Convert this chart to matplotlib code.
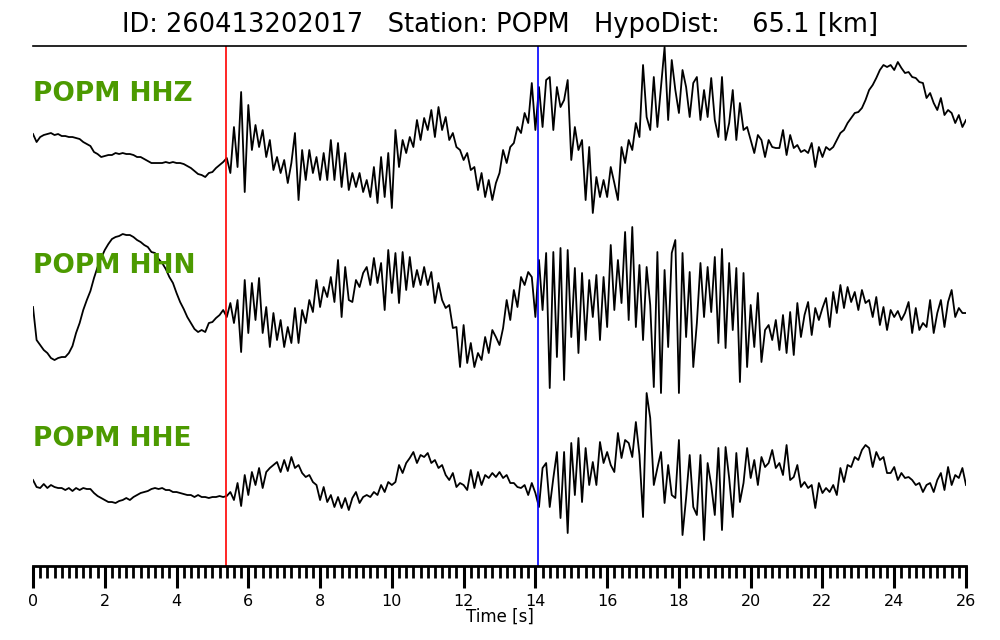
import numpy as np
import matplotlib
matplotlib.use("Agg")
import matplotlib.pyplot as plt
from matplotlib.ticker import MultipleLocator

title = "ID: 260413202017   Station: POPM   HypoDist:    65.1 [km]"
channels = ["POPM HHZ", "POPM HHN", "POPM HHE"]
dt = 0.1
p_time = 5.38
s_time = 14.07

hhz = [16, 8, 13, 15, 16, 17, 15, 16, 14, 14, 13, 13, 12, 11, 8, 6, 4, -2, -4, -7,
       -6, -5, -5, -3, -4, -3, -4, -4, -5, -7, -7, -9, -11, -13, -13, -13, -13, -12, -13, -12,
       -13, -13, -14, -16, -18, -21, -24, -25, -27, -23, -22, -18, -15, -12, -8, -23, 23, -17, 58, -42,
       45, 0, 25, 3, 20, -7, 10, -20, -7, -23, -10, -33, -13, 17, -50, 0, -30, 0, -23, -7,
       -30, -3, -30, 10, -30, 7, -37, -3, -40, -23, -37, -23, -42, -30, -47, -17, -53, -7, -47, -3,
       -58, 20, -17, 10, -3, 13, 3, 30, 10, 32, 20, 40, 13, 43, 20, 33, 10, 17, 3, 0,
       -10, -3, -20, -17, -40, -23, -47, -30, -50, -33, -23, 0, -13, 3, 7, 23, 17, 37, 27, 67,
       20, 63, 23, 70, 73, 20, 63, 43, 50, 70, -10, 23, 0, 10, -50, 3, -63, -27, -47, -30,
       -47, -17, -33, -50, 3, -13, 10, 0, 27, 13, 85, 33, 20, 73, 23, 63, 103, 30, 90, 60,
       37, 80, 63, 33, 67, 73, 30, 60, 33, 72, 30, 13, 73, 10, 27, 60, 10, 47, 20, 23,
       10, -3, 15, 10, -7, 10, 3, 2, 2, 20, -5, 15, 2, 5, -2, 0, -3, 7, -17, 3,
       -7, 3, 0, 3, 10, 17, 20, 27, 32, 37, 38, 42, 50, 60, 65, 72, 80, 85, 83, 85,
       80, 88, 82, 77, 78, 73, 72, 68, 67, 52, 57, 47, 40, 52, 35, 40, 37, 27, 35, 23,
       30]

hhn = [3, -30, -35, -40, -43, -48, -50, -48, -47, -47, -43, -36, -23, -13, 0, 10, 19, 32, 43, 52,
       60, 66, 71, 73, 74, 76, 75, 75, 73, 70, 68, 65, 63, 58, 57, 51, 47, 41, 33, 27,
       17, 8, 1, -7, -13, -19, -22, -20, -22, -13, -12, -8, -5, 0, -7, 7, -13, 10, -42, 30,
       -23, 27, -10, 32, -23, 3, -37, -3, -30, -10, -37, -17, -33, 2, -33, 0, -13, 10, -2, 30,
       3, 23, 13, 33, 8, 50, -7, 43, 10, 8, 30, 23, 37, 43, 25, 52, 27, 47, 0, 60,
       17, 57, 7, 58, 20, 53, 23, 40, 25, 43, 25, 38, 7, 27, 10, 2, 5, -18, -17, -57,
       -15, -53, -33, -57, -43, -50, -27, -43, -20, -27, -35, -18, 10, -10, 20, 3, 33, 25, 38, 33,
       -7, 50, 0, 57, -78, 58, -47, 62, -70, 60, -27, 42, -43, 37, -30, 30, -7, 35, -30, 33,
       -17, 65, 0, 50, 7, 78, -10, 83, -17, 45, -30, 43, 5, -77, 58, -83, 40, -37, 57, 70,
       -83, 57, -27, 38, -57, -13, 47, -7, 43, -2, 53, -33, 61, -38, 47, -20, 42, -72, 37, -57,
       5, -37, 17, -52, -20, -15, -30, -10, -40, -5, -43, -2, -45, 7, -27, -5, 8, -25, 2, -10,
       2, 12, -17, 18, -3, 25, 2, 23, 8, 18, 0, 20, 7, 10, -7, 13, -15, 3, -20, 0,
       -7, -1, -10, -3, 8, -23, 2, -20, -13, -17, 10, -23, -3, 10, -17, 8, 20, -7, 2, -3,
       -3]

hhe = [10, 3, 2, 6, 2, 5, 3, 2, 2, 0, 2, -1, 2, 0, 2, 1, 1, -3, -6, -8,
       -10, -12, -12, -13, -11, -10, -8, -10, -7, -5, -3, -2, -1, 1, 2, 1, 2, 0, 0, -2,
       -2, -3, -4, -5, -5, -7, -5, -7, -7, -8, -7, -7, -6, -7, -6, -2, -10, 7, -16, 15,
       -5, 18, 5, 22, 2, 18, 22, 25, 28, 18, 30, 19, 33, 22, 25, 17, 13, 15, 8, 5,
       -10, 3, -12, -5, -17, -7, -18, -8, -20, -8, -2, -13, -7, -5, -7, -2, -5, 5, -2, 8,
       5, 8, 25, 17, 27, 32, 38, 27, 35, 33, 37, 27, 30, 22, 25, 15, 10, 17, 3, 7,
       5, 0, 20, 2, 18, 5, 15, 12, 17, 13, 18, 12, 15, 7, 7, 3, 2, 5, -5, 7,
       -3, -17, 22, 27, -17, 12, 38, -28, 38, -43, 47, -5, 52, -12, 42, 5, 28, 5, 48, 27,
       38, 25, 18, 57, 32, 50, 47, 33, 68, 35, -27, 97, 72, 5, 22, 38, -13, 25, -5, -8,
       50, -45, -8, 35, -17, -25, 35, -50, 27, 5, -25, 42, -40, 43, 12, -27, 37, -12, 7, 42,
       12, 30, 5, 33, 23, 27, 40, 22, 27, 15, 45, 10, 13, 25, 3, 8, 2, 5, -18, 7,
       -3, 2, -2, 5, -5, 22, 8, 25, 23, 33, 30, 40, 45, 42, 23, 38, 30, 33, 17, 17,
       23, 10, 17, 12, 13, 10, 5, 7, -2, 5, 7, -2, 10, 17, 0, 23, 5, 15, 12, 22,
       5]

traces = [hhz, hhn, hhe]
offsets = [416, 256, 76]
label_offsets = [56, 44, 51]

fig = plt.figure(figsize=(10, 6.4), dpi=100)
ax = fig.add_axes([0.033, 0.1156, 0.933, 0.8125])

for tr, off, name, loff in zip(traces, offsets, channels, label_offsets):
    a = np.asarray(tr, dtype=float)
    t = np.arange(len(a)) * dt
    ax.plot(t, a + off, color="black", lw=1.3)
    ax.text(0.0, off + loff, name, color="#4c9a00", fontsize=19, fontweight="bold",
            ha="left", va="center")

ax.axvline(p_time, color="red", lw=1.2)
ax.axvline(s_time, color="blue", lw=1.2)

ax.set_xlim(0, 26)
ax.set_ylim(0, 520)
ax.spines["left"].set_visible(False)
ax.spines["right"].set_visible(False)
ax.spines["top"].set_linewidth(1.2)
ax.spines["bottom"].set_linewidth(2.0)
ax.set_yticks([])
ax.xaxis.set_major_locator(MultipleLocator(2))
ax.xaxis.set_minor_locator(MultipleLocator(0.2))
ax.tick_params(axis="x", which="major", direction="out", length=16, width=2.2,
               labelsize=11.5, pad=4.5)
ax.tick_params(axis="x", which="minor", direction="out", length=8.5, width=2.0)
ax.set_xlabel("Time [s]", fontsize=12, labelpad=-1)
fig.text(0.5, 0.961, title, ha="center", va="center", fontsize=18.5)

fig.savefig("out.png", dpi=100)
